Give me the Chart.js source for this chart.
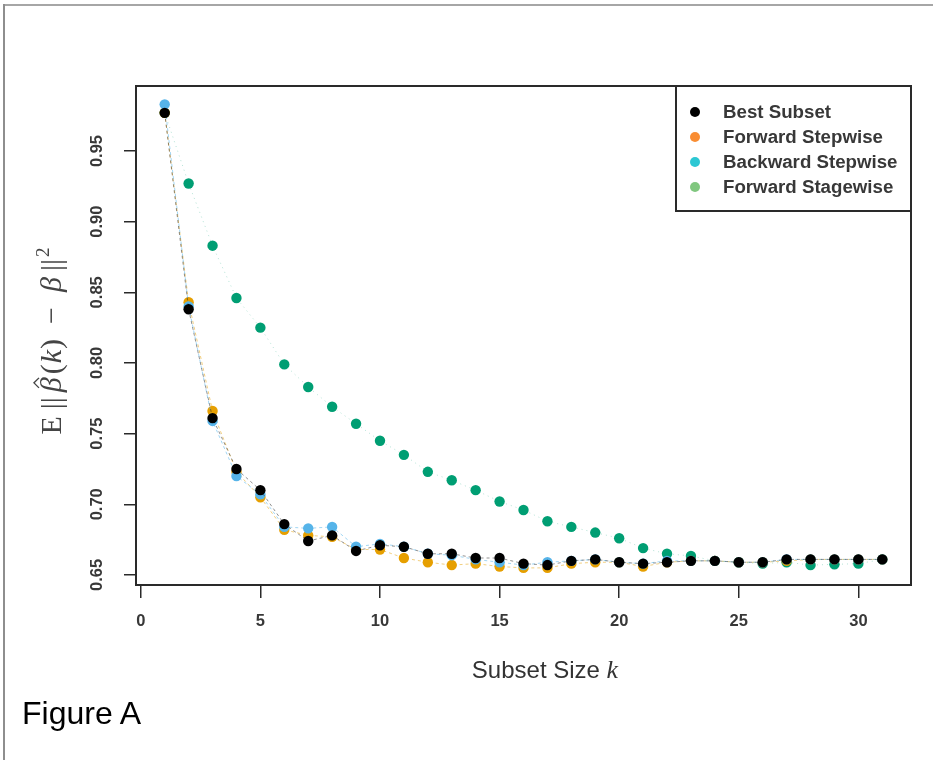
<!DOCTYPE html>
<html>
<head>
<meta charset="utf-8">
<title>Estimation error by subset size</title>
<script src="https://cdn.jsdelivr.net/npm/chart.js@4.4.1/dist/chart.umd.min.js"></script>
<style>
    html, body { margin: 0; padding: 0; background: #fff; }
    #page { position: relative; width: 933px; height: 760px; overflow: hidden; background: #fff; }
    #edge-top { position: absolute; left: 3px; top: 4px; width: 930px; border-top: 2px solid #a6a6a6; }
    #edge-left { position: absolute; left: 3px; top: 4px; height: 756px; border-left: 2px solid #8e8e8e; }
    #chart-area { position: absolute; left: 0; top: 0; }
    #caption { position: absolute; left: 22px; top: 695px; font: 32px "Liberation Sans", Arial, sans-serif; color: #000; }
</style>
</head>
<body>
<div id="page">
    <canvas id="chart-area" width="933" height="700"></canvas>
    <div id="edge-top"></div>
    <div id="edge-left"></div>
    <div id="caption">Figure A</div>
</div>
<script>
//subset size k on the x axis
var subsetSizes = [1, 2, 3, 4, 5, 6, 7, 8, 9, 10, 11, 12, 13, 14, 15, 16,
    17, 18, 19, 20, 21, 22, 23, 24, 25, 26, 27, 28, 29, 30, 31];

//mean squared error of the coefficient estimates, one list per method
var bestSubset = [0.977, 0.838, 0.761, 0.725, 0.710, 0.686, 0.674, 0.678, 0.667, 0.671, 0.670,
    0.665, 0.665, 0.662, 0.662, 0.658, 0.657, 0.660, 0.661, 0.659, 0.658, 0.659, 0.660, 0.660,
    0.659, 0.659, 0.661, 0.661, 0.661, 0.661, 0.661];
var forwardStepwise = [0.977, 0.843, 0.766, 0.723, 0.705, 0.682, 0.678, 0.677, 0.668, 0.668, 0.662,
    0.659, 0.657, 0.658, 0.656, 0.655, 0.655, 0.658, 0.659, 0.659, 0.656, 0.659, 0.660, 0.660,
    0.659, 0.659, 0.660, 0.661, 0.661, 0.661, 0.661];
var backwardStepwise = [0.983, 0.840, 0.759, 0.720, 0.707, 0.684, 0.683, 0.684, 0.670, 0.672, 0.670,
    0.665, 0.664, 0.661, 0.659, 0.657, 0.659, 0.660, 0.661, 0.659, 0.658, 0.660, 0.660, 0.660,
    0.659, 0.659, 0.661, 0.661, 0.661, 0.661, 0.661];
var forwardStagewise = [0.977, 0.927, 0.883, 0.846, 0.825, 0.799, 0.783, 0.769, 0.757, 0.745, 0.735,
    0.723, 0.717, 0.710, 0.702, 0.696, 0.688, 0.684, 0.680, 0.676, 0.669, 0.665, 0.6635, 0.660,
    0.659, 0.658, 0.659, 0.657, 0.6575, 0.658, 0.661];

var seriesNames = ['Best Subset', 'Forward Stepwise', 'Backward Stepwise', 'Forward Stagewise'];
var xTickValues = [0, 5, 10, 15, 20, 25, 30];
var yTickValues = [0.65, 0.70, 0.75, 0.80, 0.85, 0.90, 0.95];

//point colours differ a bit from the legend swatches
var pointColors = ['#000000', '#E69F00', '#56B4E9', '#009E73'];
var lineColors = ['rgba(40,40,40,0.5)', 'rgba(230,159,0,0.5)', 'rgba(86,180,233,0.55)', 'rgba(0,158,115,0.3)'];
var legendColors = ['#000000', '#F98D33', '#2CC7D3', '#80C77F'];

var axisColor = '#2a2a2a';
var labelColor = '#383838';
var tickSize = 16.5;
var tickFont = 'bold ' + tickSize + 'px "Liberation Sans", Arial, sans-serif';

var chart;

function toPoints(values) {
    return subsetSizes.map(function (k, i) { return { x: k, y: values[i] }; });
}

function makeDataset(index, values, order, dash) {
    return {
        label: seriesNames[index],
        data: toPoints(values),
        order: order, //lowest order ends up on top
        showLine: true,
        borderColor: lineColors[index],
        borderWidth: 1,
        borderDash: dash,
        pointRadius: 5.2,
        pointBorderWidth: 0,
        pointBackgroundColor: pointColors[index],
    };
}

//writes a run of text pieces centred on x, each with its own font
//hat: circumflex over the glyph, rise: raise for superscripts
function drawPieces(ctx, pieces, x, y) {
    var total = 0;
    pieces.forEach(function (p) {
        ctx.font = p.font;
        p.w = ctx.measureText(p.text).width;
        total += p.w + (p.gap || 0);
    });
    var cx = x - total / 2;
    pieces.forEach(function (p) {
        ctx.font = p.font;
        ctx.fillText(p.text, cx, y - (p.rise || 0));
        if (p.hat) {
            var hx = cx + p.w * 0.62;
            ctx.beginPath();
            ctx.moveTo(hx - 5, y - 22);
            ctx.lineTo(hx, y - 27);
            ctx.lineTo(hx + 5, y - 22);
            ctx.lineWidth = 1.4;
            ctx.strokeStyle = ctx.fillStyle;
            ctx.stroke();
        }
        cx += p.w + (p.gap || 0);
    });
}

//box, rotated y labels, axis titles and the boxed legend
var framePlugin = {
    id: 'frame',
    afterDraw: function (c) {
        var ctx = c.ctx;
        var area = c.chartArea;
        var yScale = c.scales.y;

        ctx.save();
        ctx.strokeStyle = axisColor;
        ctx.lineWidth = 2;
        ctx.strokeRect(area.left, area.top, area.right - area.left, area.bottom - area.top);

        //y tick labels read bottom to top
        ctx.fillStyle = labelColor;
        ctx.font = tickFont;
        ctx.textAlign = 'center';
        ctx.textBaseline = 'middle';
        yScale.ticks.forEach(function (t) {
            ctx.save();
            ctx.translate(97, yScale.getPixelForValue(t.value));
            ctx.rotate(-Math.PI / 2);
            ctx.fillText(t.value.toFixed(2), 0, 0);
            ctx.restore();
        });

        //axis titles
        ctx.fillStyle = '#333';
        ctx.textAlign = 'left';
        ctx.textBaseline = 'alphabetic';
        var serif = '"Liberation Serif", "DejaVu Serif", serif';
        var sans = '"Liberation Sans", Arial, sans-serif';
        drawPieces(ctx, [
            { text: 'Subset Size ', font: '24px ' + sans },
            { text: 'k', font: 'italic 26px ' + serif }
        ], 545, 678);

        ctx.save();
        ctx.translate(61, 341);
        ctx.rotate(-Math.PI / 2);
        ctx.fillStyle = '#444';
        drawPieces(ctx, [
            { text: 'E', font: '30px ' + serif, gap: 7 },
            { text: '||', font: '30px ' + serif, gap: 5 },
            { text: '\u03B2', font: 'italic 30px ' + serif, gap: 3, hat: true },
            { text: '(', font: '30px ' + serif, gap: 1 },
            { text: 'k', font: 'italic 30px ' + serif, gap: 1 },
            { text: ')', font: '30px ' + serif, gap: 15 },
            { text: '\u2212', font: '30px ' + serif, gap: 15 },
            { text: '\u03B2', font: 'italic 30px ' + serif, gap: 6 },
            { text: '||', font: '30px ' + serif, gap: 2 },
            { text: '2', font: '19px ' + serif, rise: 12 }
        ], 0, 0);
        ctx.restore();

        //legend in the top right corner of the plot box
        var boxW = 235, boxH = 125;
        var bx = area.right - boxW, by = area.top;
        ctx.strokeStyle = axisColor;
        ctx.lineWidth = 2;
        ctx.fillStyle = '#fff';
        ctx.fillRect(bx, by, boxW, boxH);
        ctx.strokeRect(bx, by, boxW, boxH);
        ctx.font = 'bold 18.7px "Liberation Sans", Arial, sans-serif';
        ctx.textBaseline = 'middle';
        seriesNames.forEach(function (name, i) {
            var ly = by + 26 + i * 25;
            ctx.fillStyle = legendColors[i];
            ctx.beginPath();
            ctx.arc(bx + 19, ly, 5, 0, Math.PI * 2);
            ctx.fill();
            ctx.fillStyle = labelColor;
            ctx.fillText(name, bx + 47, ly + 1);
        });
        ctx.restore();
    }
};

function buildChart(canvas) {
    if (chart) {
        chart.destroy();
    }

    chart = new Chart(canvas.getContext('2d'), {
        type: 'scatter',
        plugins: [framePlugin],
        data: {
            datasets: [
                makeDataset(0, bestSubset, 0, [3, 3]),
                makeDataset(1, forwardStepwise, 2, [3, 3]),
                makeDataset(2, backwardStepwise, 1, [3, 3]),
                makeDataset(3, forwardStagewise, 3, [1, 4])
            ]
        },
        options: {
            responsive: false,
            animation: false,
            events: [],
            layout: {
                padding: { left: 0, top: 86, right: 22, bottom: 0 }
            },
            plugins: {
                legend: { display: false }, //drawn by framePlugin with a border
                tooltip: { enabled: false }
            },
            scales: {
                x: {
                    type: 'linear',
                    min: -0.2,
                    max: 32.2,
                    afterBuildTicks: function (s) {
                        s.ticks = xTickValues.map(function (v) { return { value: v }; });
                    },
                    afterFit: function (s) { s.height = 115; },
                    border: { display: false },
                    grid: { drawOnChartArea: false, drawTicks: true, tickLength: 13, color: axisColor, lineWidth: 1.5 },
                    ticks: {
                        padding: 14,
                        color: labelColor,
                        maxRotation: 0,
                        autoSkip: false,
                        font: { family: '"Liberation Sans", Arial, sans-serif', size: tickSize, weight: 'bold' }
                    }
                },
                y: {
                    type: 'linear',
                    min: 0.6429,
                    max: 0.996,
                    afterBuildTicks: function (s) {
                        s.ticks = yTickValues.map(function (v) { return { value: v }; });
                    },
                    afterFit: function (s) { s.width = 136; },
                    border: { display: false },
                    grid: { drawOnChartArea: false, drawTicks: true, tickLength: 12, color: axisColor, lineWidth: 1.5 },
                    ticks: { display: false } //rotated labels drawn by framePlugin
                }
            }
        }
    });
}

buildChart(document.getElementById('chart-area'));
</script>
</body>
</html>
